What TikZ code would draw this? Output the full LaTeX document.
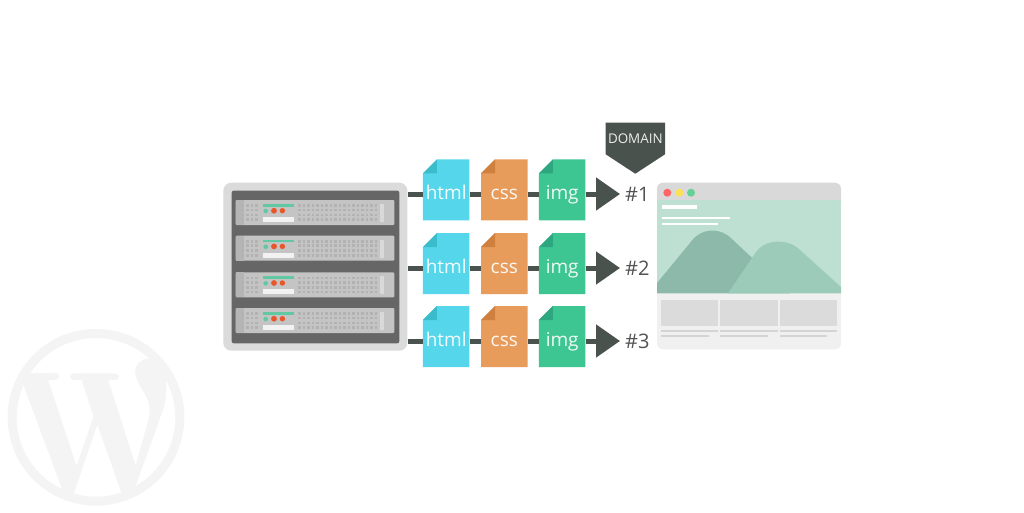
\documentclass[tikz,border=0pt]{standalone}
\usepackage{fontspec}
\setmainfont{Open Sans}
\usetikzlibrary{arrows.meta}

\definecolor{darkbar}{HTML}{4A524E}
\definecolor{htmlblue}{HTML}{56D6EA}
\definecolor{htmlfold}{HTML}{3BBCCB}
\definecolor{cssorange}{HTML}{E89C5C}
\definecolor{cssfold}{HTML}{CF7F3E}
\definecolor{imggreen}{HTML}{3EC692}
\definecolor{imgfold}{HTML}{2CA77F}
\definecolor{logogray}{HTML}{F4F4F4}
\definecolor{ledgreen}{HTML}{62C8A2}
\definecolor{ledred}{HTML}{E8562A}
\definecolor{hero}{HTML}{BDE0D3}
\definecolor{hillback}{HTML}{8CB9A9}
\definecolor{hillfront}{HTML}{9CCBB9}

\begin{document}
\begin{tikzpicture}[x=1pt,y=-1pt]
            \tikzset{file/.style n args={2}{rectangle, text=white!92!#1, minimum width=46.5pt, minimum height=61pt,
            inner sep=0pt, text height=20pt, text depth=0pt, font=\fontsize{19}{21}\selectfont,
            path picture={
                \fill[#1] (path picture bounding box.north west) ++(14pt,0pt) -- (path picture bounding box.north east) -- (path picture bounding box.south east)
                    -- (path picture bounding box.south west) -- ++(0pt,47pt) -- cycle;
                \fill[#2] (path picture bounding box.north west) ++(14pt,0pt) -- ++(0pt,-14pt) -- ++(-14pt,0pt) -- cycle;
            }}}
            \tikzset{htmlfile/.style = {file={htmlblue}{htmlfold}}}
            \tikzset{cssfile/.style = {file={cssorange}{cssfold}}}
            \tikzset{imgfile/.style = {file={imggreen}{imgfold}}}
            \tikzset{bar/.style = {darkbar, line width=5pt}}
            \tikzset{edge/.style = {bar, -{Triangle[length=24pt,width=32pt]}}}
            \tikzset{number/.style = {text=black!68, inner sep=5pt, font=\fontsize{20}{22}\selectfont}}
            \tikzset{dots/.style = {line width=2.6pt, dash pattern=on 2.4pt off 2.1pt, color=black!30}}
            \tikzset{blade/.pic = {
                \fill[black!23, rounded corners=1pt] (0,0) rectangle (158.6,25);
                \fill[black!29] (0,0) rectangle (8,25);
                \draw[dots] (6,5.5) -- (24,5.5);
                \draw[dots] (6,10) -- (24,10);
                \draw[dots] (6,15) -- (24,15);
                \draw[dots] (6,19.5) -- (24,19.5);
                \draw[dots] (62.7,5.5) -- (142.7,5.5);
                \draw[dots] (62.7,10) -- (142.7,10);
                \draw[dots] (62.7,15) -- (142.7,15);
                \draw[dots] (62.7,19.5) -- (142.7,19.5);
                \fill[black!15] (144.3,4) rectangle (148.3,22);
                \fill[ledgreen] (27,4) rectangle (58.7,6.5);
                \fill[ledgreen] (30,11) circle (2.3);
                \fill[ledred] (38.3,10.7) circle (2.9);
                \fill[ledred] (46.7,10.7) circle (2.7);
                \fill[black!5] (27,17) rectangle (58.7,22);
            }}

            \path[use as bounding box, fill=white] (0,0) rectangle (1024,512);

            % wordpress mark
            \begin{scope}[shift={(0,320)}, x=0.3333pt, y=-0.3333pt]
                \fill[logogray] (288,292) circle (250);
                \fill[white] (70,195) -- (185,505) -- (40,520) -- (20,195) -- cycle;
                \fill[white] (60,160) -- (165,158) .. controls (182,158) and (182,180) .. (165,180) -- (145,180) -- (230,437) -- (280,290) -- (245,180) -- (225,180)
                    .. controls (205,180) and (205,160) .. (225,160) -- (345,160) .. controls (362,160) and (362,180) .. (345,180) -- (325,180) -- (407,435) -- (445,300)
                    .. controls (455,265) and (445,240) .. (430,215) .. controls (412,185) and (400,165) .. (408,140) .. controls (415,120) and (435,115) .. (460,115)
                    -- (460,40) -- (60,40) -- cycle;
                \fill[white] (292,315) -- (372,540) -- (215,540) -- cycle;
                \fill[white] (498,180) .. controls (502,225) and (495,260) .. (480,295) -- (408,497) -- (420,540) -- (560,500) -- (540,180) -- cycle;
                \draw[logogray, line width=9pt] (288,292) circle (251.5);
            \end{scope}

            % rack
            \node[rectangle, fill=black!14, rounded corners=8pt, minimum width=184pt, minimum height=168pt, inner sep=0pt] (rack) at (315.3,266.7) {};
            \node[rectangle, fill=black!60, rounded corners=2pt, minimum width=167.6pt, minimum height=152.6pt, inner sep=0pt] (rackinner) at (315.5,267) {};
            \pic at (235.7,200) {blade};
            \pic at (235.7,235.7) {blade};
            \pic at (235.7,272.3) {blade};
            \pic at (235.7,308) {blade};

            \node[htmlfile] (html1) at (446.2,189.8) {html};
            \node[cssfile] (css1) at (504.3,189.8) {css};
            \node[imgfile] (img1) at (562.2,189.8) {img};

            \node[htmlfile] (html2) at (446.2,263.6) {html};
            \node[cssfile] (css2) at (504.3,263.6) {css};
            \node[imgfile] (img2) at (562.2,263.6) {img};

            \node[htmlfile] (html3) at (446.2,336.5) {html};
            \node[cssfile] (css3) at (504.3,336.5) {css};
            \node[imgfile] (img3) at (562.2,336.5) {img};

            \node[number, anchor=west] (num1) at (620,194) {\#1};
            \node[number, anchor=west] (num2) at (620,268) {\#2};
            \node[number, anchor=west] (num3) at (620,341) {\#3};

            \draw[bar] (rack.east |- num1) -- (html1.west |- num1);
            \draw[bar] (html1.east |- num1) -- (css1.west |- num1);
            \draw[bar] (css1.east |- num1) -- (img1.west |- num1);
            \draw[edge] (img1.east |- num1) to (num1.west);

            \draw[bar] (rack.east |- num2) -- (html2.west |- num2);
            \draw[bar] (html2.east |- num2) -- (css2.west |- num2);
            \draw[bar] (css2.east |- num2) -- (img2.west |- num2);
            \draw[edge] (img2.east |- num2) to (num2.west);

            \draw[bar] (rack.east |- num3) -- (html3.west |- num3);
            \draw[bar] (html3.east |- num3) -- (css3.west |- num3);
            \draw[bar] (css3.east |- num3) -- (img3.west |- num3);
            \draw[edge] (img3.east |- num3) to (num3.west);

            % domain tag
            \fill[darkbar] (605.7,122.7) -- (665,122.7) -- (665,154.3) -- (635.3,173.7) -- (605.7,154.3) -- cycle;
            \node[text=white!90!darkbar, inner sep=0pt, font=\fontsize{13.4}{15}\selectfont] (domain) at (635.3,138.5) {DOMAIN};

            % browser window
            \fill[black!6, rounded corners=6pt] (657,280) rectangle (841,349.3);
            \fill[black!15, rounded corners=6pt] (657,182.7) rectangle (841,210);
            \fill[hero] (657,200) rectangle (841,293.3);
            \fill[red!60!white] (667.3,192.7) circle (4);
            \fill[yellow!70!orange!65!white] (679.3,192.7) circle (4);
            \fill[green!40!teal!60!white] (691,192.7) circle (4);
            \fill[white] (662.3,205.3) rectangle (696.7,208.7);
            \fill[white] (662.3,217) rectangle (730,219.3);
            \fill[white] (662.3,223.3) rectangle (718.3,225);
            \fill[hillback] (657,283) -- (690,243) .. controls (700,228) and (720,226) .. (733,240) -- (790,293.3) -- (657,293.3) -- cycle;
            \fill[hillfront] (728,293.3) -- (756,252) .. controls (765,239) and (788,238) .. (800,250) -- (841,287) -- (841,293.3) -- cycle;
            \fill[black!14] (661,300) rectangle (718.3,326);
            \fill[black!14] (720,300) rectangle (777.7,326);
            \fill[black!14] (780,300) rectangle (836.7,326);
            \fill[black!17] (661,330) rectangle (718.3,332.3);
            \fill[black!17] (720,330) rectangle (777.7,332.3);
            \fill[black!17] (780,330) rectangle (836.7,332.3);
            \fill[black!17] (661,334.7) rectangle (709,336.7);
            \fill[black!17] (720,334.7) rectangle (767.7,336.7);
            \fill[black!17] (780,334.7) rectangle (827.3,336.7);
\end{tikzpicture}
\end{document}
